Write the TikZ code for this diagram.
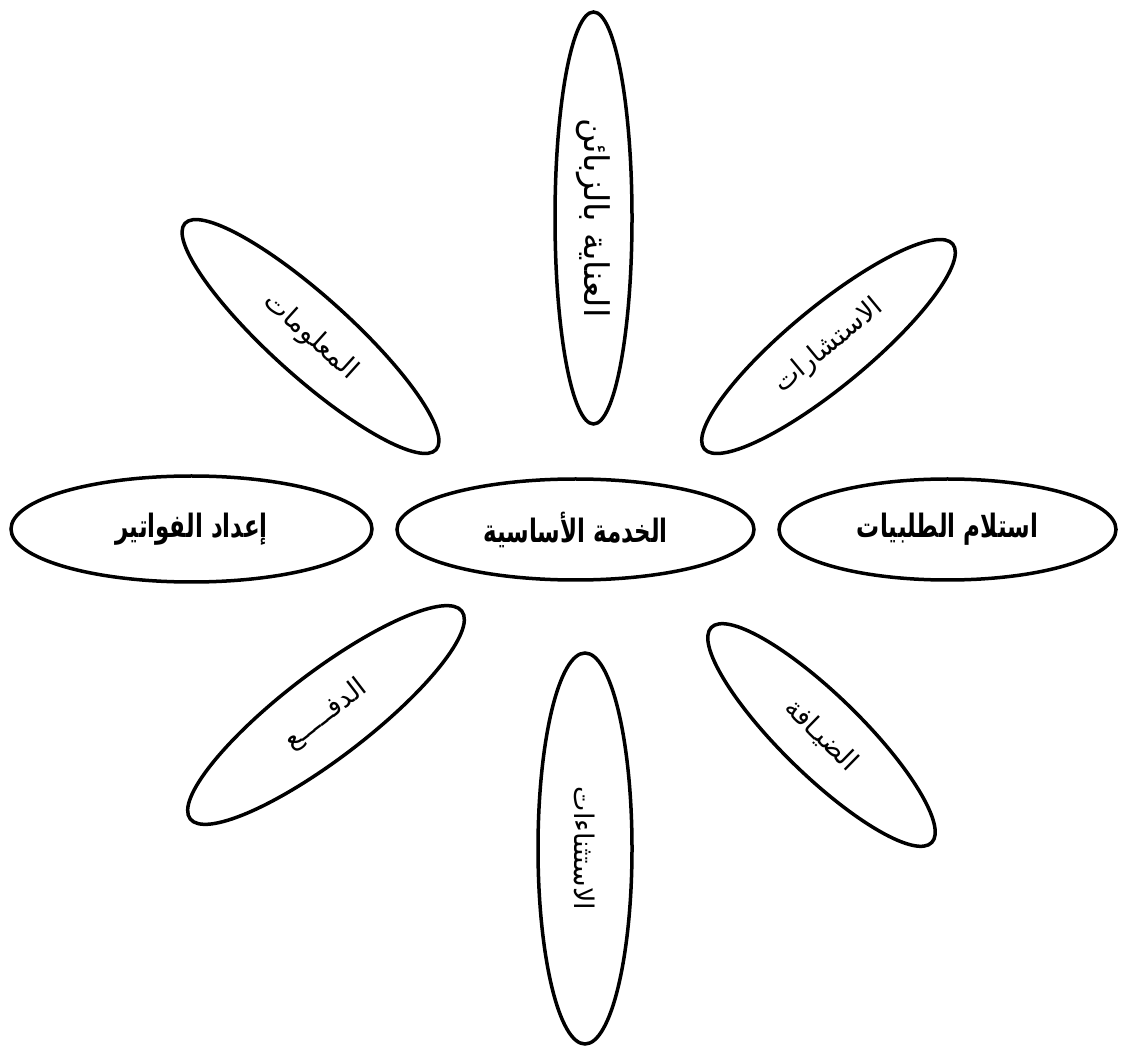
\documentclass[tikz,border=0pt]{standalone}
\usepackage{fontspec}
\usepackage{tikz}
\usetikzlibrary{shapes.geometric}
\newfontfamily\arabicfont[Script=Arabic]{DejaVu Sans}
\TeXXeTstate=1
\newcommand{\tall}[1]{\scalebox{1}[1.4]{\beginR #1\endR}}

\begin{document}
\begin{tikzpicture}[x=1pt,y=1pt,
    petal/.style={ellipse,draw,line width=3.5pt,inner sep=0pt,
      font=\arabicfont\fontsize{27}{31}\selectfont},
    hpetal/.style={petal,font=\arabicfont\bfseries\fontsize{23}{27}\selectfont}]

\useasboundingbox (0,0) rectangle (1123,1050);

\node[hpetal,minimum width=357,minimum height=101] (core) at (575.5,520.5) {\tall{الخدمة الأساسية}};
\node[hpetal,minimum width=337,minimum height=101] (orders) at (947.5,520.5) {\tall{استلام الطلبيات}};
\node[hpetal,minimum width=361,minimum height=106] (bills) at (191.5,521) {\tall{إعداد الفواتير}};

\node[petal,rotate=-90,minimum width=412,minimum height=77,
  font=\arabicfont\fontsize{34}{38}\selectfont] (care) at (593.5,832) {\beginR العناية بالزبائن\endR};
\node[petal,rotate=-90,minimum width=391,minimum height=94] (except) at (585,201.5) {\beginR الاستثناءات\endR};

\node[petal,rotate=-42,minimum width=338,minimum height=80] (info) at (310.5,713.5) {\beginR المعلومات\endR};
\node[petal,rotate=39.5,minimum width=322,minimum height=80] (advice) at (828.5,703.5) {\beginR الاستشارات\endR};
\node[petal,rotate=37.4,minimum width=342,minimum height=86] (pay) at (326,335) {\beginR الدفـــــع\endR};
\node[petal,rotate=-44.3,minimum width=308,minimum height=80] (host) at (821.5,315) {\beginR الضيـافة\endR};
\end{tikzpicture}
\end{document}
